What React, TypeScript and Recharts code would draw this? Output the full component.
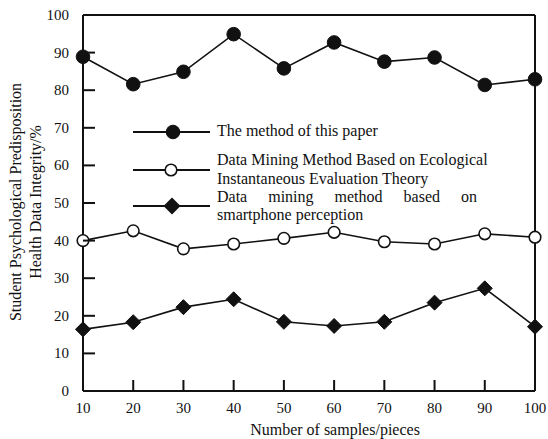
import React from 'react';
import { LineChart, Line, XAxis, YAxis, ReferenceLine, Legend, Label } from 'recharts';

const samples = [10, 20, 30, 40, 50, 60, 70, 80, 90, 100];
const methodThisPaper = [88.9, 81.6, 84.9, 94.9, 85.8, 92.7, 87.6, 88.7, 81.4, 82.9];
const ecologicalMethod = [40.0, 42.6, 37.8, 39.1, 40.6, 42.2, 39.7, 39.1, 41.8, 40.9];
const smartphoneMethod = [16.4, 18.3, 22.3, 24.4, 18.4, 17.3, 18.4, 23.5, 27.3, 17.1];
const xTicks = [10, 20, 30, 40, 50, 60, 70, 80, 90, 100];
const yTicks = [0, 10, 20, 30, 40, 50, 60, 70, 80, 90, 100];
const seriesNames = [
  'The method of this paper',
  'Data Mining Method Based on Ecological Instantaneous Evaluation Theory',
  'Data mining method based on smartphone perception',
];

const data = samples.map((s, i) => ({
  samples: s,
  a: methodThisPaper[i],
  b: ecologicalMethod[i],
  c: smartphoneMethod[i],
}));

const FONT = '"Liberation Serif", "Times New Roman", serif';
const INK = '#111';

const XTick = (props: any) => {
  const { x, y, payload } = props;
  return (
    <g>
      <line x1={x} y1={y} x2={x} y2={y - 11} stroke={INK} strokeWidth={2} />
      <text x={x} y={y + 22} textAnchor="middle" fontSize={15} fontFamily={FONT} fill={INK}>
        {payload.value}
      </text>
    </g>
  );
};

const YTick = (props: any) => {
  const { x, y, payload } = props;
  return (
    <g>
      <line x1={x} y1={y} x2={x + 12} y2={y} stroke={INK} strokeWidth={2} />
      <text x={x - 14} y={y + 5} textAnchor="end" fontSize={15} fontFamily={FONT} fill={INK}>
        {payload.value}
      </text>
    </g>
  );
};

const YLabel = (props: any) => {
  const vb = props.viewBox || { x: 0, y: 15, width: 83, height: 376 };
  const cy = vb.y + vb.height / 2 - 1;
  const x1 = vb.x + 21;
  const x2 = vb.x + 41;
  return (
    <g fontFamily={FONT} fontSize={16} fill={INK}>
      <text x={x1} y={cy} textAnchor="middle" transform={`rotate(-90 ${x1} ${cy})`}>
        Student Psychological Predisposition
      </text>
      <text x={x2} y={cy} textAnchor="middle" transform={`rotate(-90 ${x2} ${cy})`}>
        Health Data Integrity/%
      </text>
    </g>
  );
};

const XLabel = (props: any) => {
  const vb = props.viewBox || { x: 83, y: 391, width: 452, height: 48 };
  const cx = vb.x + vb.width / 2 + 26;
  return (
    <text x={cx} y={vb.y + 44} textAnchor="middle" fontFamily={FONT} fontSize={16} fill={INK}>
      Number of samples/pieces
    </text>
  );
};

const Diamond = (props: any) => {
  const { cx, cy, index } = props;
  if (cx == null || cy == null) return <g key={`d-${index}`} />;
  const h = 7.5;
  return (
    <path
      key={`d-${index}`}
      d={`M${cx},${cy - h} L${cx + h},${cy} L${cx},${cy + h} L${cx - h},${cy} Z`}
      fill={INK}
      stroke={INK}
      strokeWidth={1}
    />
  );
};

const LegendMarker = ({ kind, top }: { kind: number; top: number }) => (
  <svg
    width={80}
    height={20}
    style={{ position: 'absolute', left: 132, top: top - 10, overflow: 'visible' }}
  >
    <line x1={1} y1={10} x2={78} y2={10} stroke={INK} strokeWidth={2} />
    {kind === 0 && <circle cx={41} cy={10} r={6.8} fill={INK} stroke={INK} />}
    {kind === 1 && <circle cx={39} cy={10} r={5.8} fill="#fff" stroke={INK} strokeWidth={1.6} />}
    {kind === 2 && <path d="M40,1.5 L48.5,10 L40,18.5 L31.5,10 Z" fill={INK} />}
  </svg>
);

const lineStyle = (top: number, extra: any = {}) => ({
  position: 'absolute' as const,
  left: 217,
  top,
  lineHeight: '19px',
  fontSize: 16,
  fontFamily: FONT,
  color: INK,
  whiteSpace: 'nowrap' as const,
  ...extra,
});

const renderLegend = () => (
  <div style={{ position: 'relative', width: 548, height: 439, pointerEvents: 'none' }}>
    <LegendMarker kind={0} top={132} />
    <LegendMarker kind={1} top={170} />
    <LegendMarker kind={2} top={206} />
    <div style={lineStyle(121)}>{seriesNames[0]}</div>
    <div style={lineStyle(150)}>Data Mining Method Based on Ecological</div>
    <div style={lineStyle(169)}>Instantaneous Evaluation Theory</div>
    <div style={lineStyle(187, { width: 260, textAlign: 'justify', textAlignLast: 'justify', whiteSpace: 'normal' })}>
      Data mining method based on
    </div>
    <div style={lineStyle(205)}>smartphone perception</div>
  </div>
);

export default function App() {
  return (
    <div style={{ position: 'absolute', left: 0, top: 0, width: 548, height: 439, background: '#fff' }}>
      <LineChart
        width={548}
        height={439}
        data={data}
        margin={{ top: 15, right: 13, bottom: 0, left: 0 }}
      >
        <XAxis
          dataKey="samples"
          type="number"
          domain={[10, 100]}
          ticks={xTicks}
          interval={0}
          height={48}
          tickSize={0}
          tickMargin={0}
          tickLine={false}
          tick={<XTick />}
          axisLine={{ stroke: INK, strokeWidth: 2 }}
        >
          <Label content={<XLabel />} />
        </XAxis>
        <YAxis
          type="number"
          domain={[0, 100]}
          ticks={yTicks}
          interval={0}
          width={83}
          tickSize={0}
          tickMargin={0}
          tickLine={false}
          tick={<YTick />}
          axisLine={{ stroke: INK, strokeWidth: 2 }}
        >
          <Label content={<YLabel />} />
        </YAxis>
        <ReferenceLine y={100} stroke={INK} strokeWidth={2} />
        <ReferenceLine x={100} stroke={INK} strokeWidth={2} />
        <Legend
          layout="vertical"
          align="center"
          verticalAlign="middle"
          content={renderLegend}
          wrapperStyle={{ position: 'absolute', left: 0, top: 0, width: 548, height: 439, margin: 0, pointerEvents: 'none' }}
        />
        <Line
          dataKey="a"
          name={seriesNames[0]}
          stroke={INK}
          strokeWidth={1.6}
          dot={{ r: 6.8, fill: INK, stroke: INK, strokeWidth: 1 }}
          isAnimationActive={false}
        />
        <Line
          dataKey="b"
          name={seriesNames[1]}
          stroke={INK}
          strokeWidth={1.6}
          dot={{ r: 5.8, fill: '#fff', stroke: INK, strokeWidth: 1.6 }}
          isAnimationActive={false}
        />
        <Line
          dataKey="c"
          name={seriesNames[2]}
          stroke={INK}
          strokeWidth={1.6}
          dot={<Diamond />}
          isAnimationActive={false}
        />
      </LineChart>
    </div>
  );
}
